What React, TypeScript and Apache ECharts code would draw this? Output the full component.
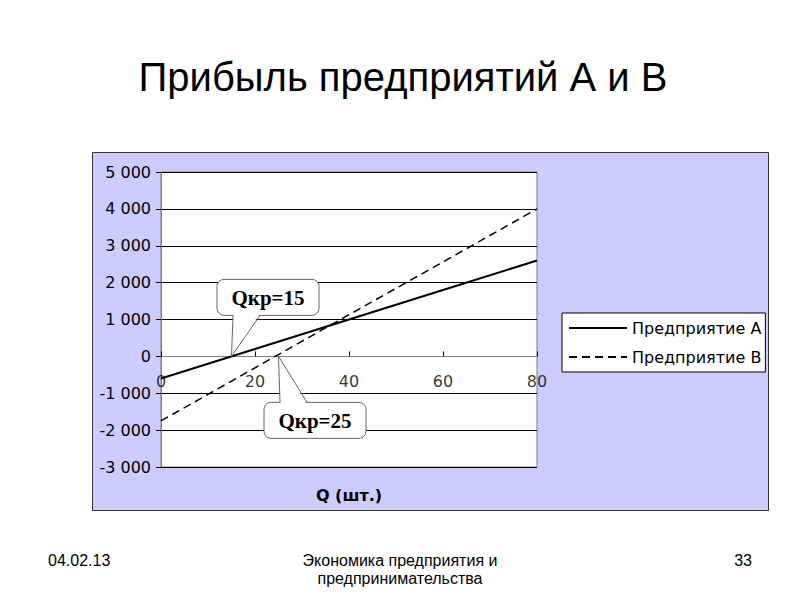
import { useEffect, useRef } from 'react';
import * as echarts from 'echarts';
import type { EChartsOption } from 'echarts';

const Q_VALUES = [0, 20, 40, 60, 80];
const PROFIT_A = [-600, 200, 1000, 1800, 2600];
const PROFIT_B = [-1750, -310, 1130, 2560, 4000];
const SERIES_NAMES = ['Предприятие А', 'Предприятие В'];
const X_TICK_LABELS = [0, 20, 40, 60, 80];
const BREAK_EVEN_Q = [15, 25];
const BREAK_EVEN_LABELS = ['Qкр=15', 'Qкр=25'];

const TITLE = 'Прибыль предприятий А и В';
const X_NAME = 'Q (шт.)';
const FOOTER_DATE = '04.02.13';
const FOOTER_SUBJECT = 'Экономика предприятия и\nпредпринимательства';
const FOOTER_PAGE = '33';

const CHART_FONT = '"DejaVu Sans", sans-serif';
const SLIDE_FONT = '"Liberation Sans", Arial, sans-serif';

function fmtThousands(v: number): string {
  const s = Math.abs(v).toString().replace(/\B(?=(\d{3})+(?!\d))/g, ' ');
  return v < 0 ? '-' + s : s;
}

function buildOption(): EChartsOption {
  const lineData = (values: number[]) => Q_VALUES.map((q, i) => [q, values[i]]);
  return {
    animation: false,
    grid: {
      left: 161,
      top: 172,
      right: 263,
      bottom: 133,
      show: true,
      backgroundColor: '#ffffff',
      borderColor: '#808080',
      borderWidth: 1,
    },
    legend: {
      orient: 'vertical',
      left: 562,
      top: 313,
      padding: [7, 4, 7, 6],
      itemGap: 13,
      itemWidth: 58,
      itemHeight: 16,
      backgroundColor: '#ffffff',
      borderColor: '#000000',
      borderWidth: 1,
      // hide the marker that ECharts puts in the middle of a line legend icon
      itemStyle: { color: 'transparent', borderColor: 'transparent', borderWidth: 0, opacity: 0 },
      textStyle: { fontFamily: CHART_FONT, fontSize: 16, color: '#000' },
      data: SERIES_NAMES,
    },
    xAxis: {
      type: 'value',
      min: 0,
      max: 80,
      interval: 20,
      axisLine: { onZero: true, lineStyle: { color: '#808080', width: 1 } },
      axisTick: { show: true, inside: true, length: 5, lineStyle: { color: '#000' } },
      // tick labels are drawn next to the zero line by the 'ticks' series below
      axisLabel: { show: false },
      splitLine: { show: false },
    },
    yAxis: {
      type: 'value',
      min: -3000,
      max: 5000,
      interval: 1000,
      axisLine: { show: true, onZero: false, lineStyle: { color: '#808080' } },
      axisTick: { show: true, length: 5, lineStyle: { color: '#000' } },
      axisLabel: {
        margin: 10,
        fontFamily: CHART_FONT,
        fontSize: 16,
        color: '#000',
        formatter: (v: number) => fmtThousands(v),
      },
      splitLine: { show: true, lineStyle: { color: '#000', width: 1 } },
    },
    series: [
      {
        name: SERIES_NAMES[0],
        type: 'line',
        data: lineData(PROFIT_A),
        symbol: 'none',
        showSymbol: false,
        color: '#000',
        lineStyle: { color: '#000', width: 2, type: 'solid' },
        z: 3,
      },
      {
        name: SERIES_NAMES[1],
        type: 'line',
        data: lineData(PROFIT_B),
        symbol: 'none',
        showSymbol: false,
        color: '#000',
        lineStyle: { color: '#000', width: 1.5, type: [8, 5] },
        z: 3,
      },
      {
        name: 'ticks',
        type: 'scatter',
        silent: true,
        symbolSize: 0,
        data: X_TICK_LABELS.map(q => [q, 0]),
        label: {
          show: true,
          position: 'bottom',
          distance: 17,
          fontFamily: CHART_FONT,
          fontSize: 16,
          color: '#000',
          formatter: (p: any) => String(p.value[0]),
        },
        z: 4,
      },
    ],
  };
}

function slideGraphics() {
  return [
    {
      type: 'rect',
      z: -100,
      silent: true,
      shape: { x: 92.5, y: 152.5, width: 676, height: 358 },
      style: { fill: '#ccccff', stroke: '#333333', lineWidth: 1 },
    },
    {
      type: 'text',
      x: 403,
      y: 77,
      style: {
        text: TITLE,
        fontFamily: SLIDE_FONT,
        fontSize: 40,
        fill: '#000',
        align: 'center',
        verticalAlign: 'middle',
      },
    },
    {
      type: 'text',
      x: 349,
      y: 495,
      style: {
        text: X_NAME,
        fontFamily: CHART_FONT,
        fontSize: 16,
        fontWeight: 'bold',
        fill: '#000',
        align: 'center',
        verticalAlign: 'middle',
      },
    },
    {
      type: 'text',
      x: 48,
      y: 560,
      style: {
        text: FOOTER_DATE,
        fontFamily: SLIDE_FONT,
        fontSize: 16,
        fill: '#000',
        align: 'left',
        verticalAlign: 'middle',
      },
    },
    {
      type: 'text',
      x: 400,
      y: 569,
      style: {
        text: FOOTER_SUBJECT,
        fontFamily: SLIDE_FONT,
        fontSize: 16,
        lineHeight: 18,
        fill: '#000',
        align: 'center',
        verticalAlign: 'middle',
      },
    },
    {
      type: 'text',
      x: 752,
      y: 560,
      style: {
        text: FOOTER_PAGE,
        fontFamily: SLIDE_FONT,
        fontSize: 16,
        fill: '#000',
        align: 'right',
        verticalAlign: 'middle',
      },
    },
  ];
}

// callout box with a pointer whose tip sits on the break-even point
function callout(px: number, py: number, label: string, above: boolean) {
  const w = 102;
  const h = 36;
  const left = px - 14.5;
  const top = above ? py - 77 : py + 46;
  const edge = above ? top + h : top;
  const inward = above ? -1.5 : 1.5;
  const b1 = px + 1.5;
  const b2 = px + 28.5;
  return [
    {
      type: 'rect',
      z: 50,
      shape: { x: left, y: top, width: w, height: h, r: 7 },
      style: { fill: '#ffffff', stroke: '#666666', lineWidth: 1 },
    },
    {
      type: 'polygon',
      z: 51,
      shape: { points: [[b1 + 0.5, edge + inward], [px, py], [b2 - 0.5, edge + inward]] },
      style: { fill: '#ffffff' },
    },
    {
      type: 'polyline',
      z: 52,
      shape: { points: [[b1, edge], [px, py], [b2, edge]] },
      style: { stroke: '#666666', lineWidth: 1, fill: 'none' },
    },
    {
      type: 'text',
      z: 53,
      x: left + w / 2,
      y: top + h / 2 + 1,
      style: {
        text: label,
        fontFamily: '"Liberation Serif", "Times New Roman", serif',
        fontSize: 21,
        fontWeight: 'bold',
        fill: '#000',
        align: 'center',
        verticalAlign: 'middle',
      },
    },
  ];
}

export default function App() {
  const ref = useRef<HTMLDivElement>(null);

  useEffect(() => {
    if (!ref.current) return;
    const chart = echarts.init(ref.current, null, { renderer: 'svg' });
    chart.setOption(buildOption());

    const callouts = BREAK_EVEN_Q.flatMap((q, i) => {
      const [px, py] = chart.convertToPixel({ xAxisIndex: 0, yAxisIndex: 0 }, [q, 0]) as number[];
      return callout(px, py, BREAK_EVEN_LABELS[i], i === 0);
    });
    chart.setOption({ graphic: [...slideGraphics(), ...callouts] });

    return () => chart.dispose();
  }, []);

  return (
    <div
      ref={ref}
      style={{ position: 'absolute', left: 0, top: 0, width: 800, height: 600, background: '#fff' }}
    />
  );
}
